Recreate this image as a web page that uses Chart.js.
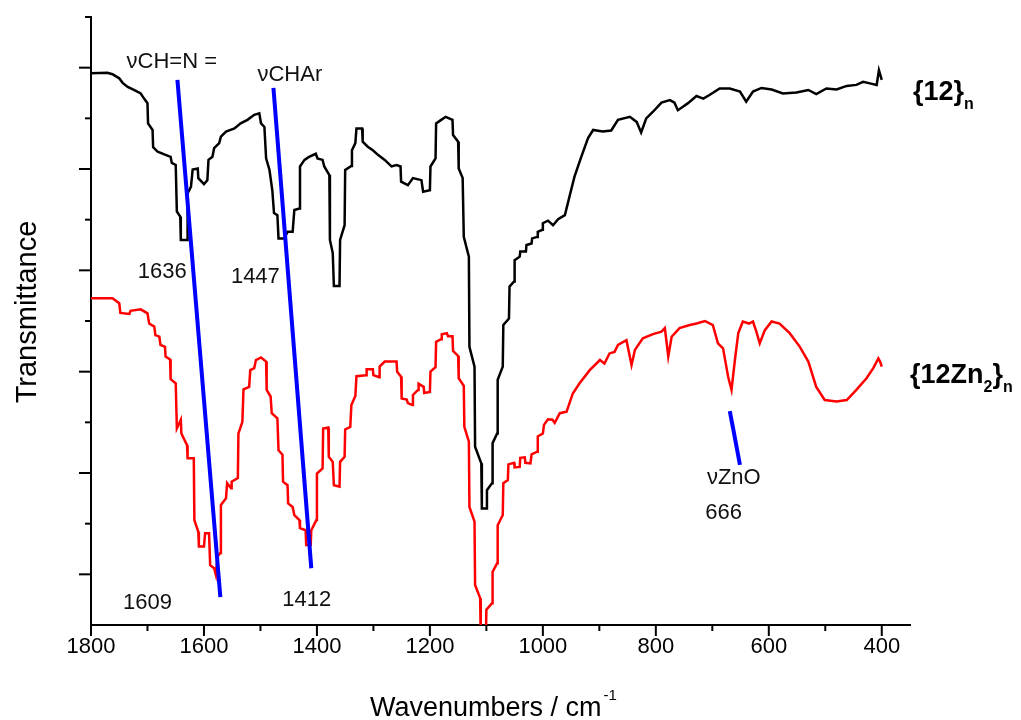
<!DOCTYPE html>
<html>
<head>
<meta charset="utf-8">
<script src="https://cdn.jsdelivr.net/npm/chart.js@4"></script>
<style>
  html, body { margin: 0; padding: 0; background: #fff; }
  #wrap { width: 1021px; height: 720px; }
</style>
</head>
<body>
<div id="wrap"><canvas id="ir" width="1021" height="720"></canvas></div>
<script>
// {12}n spectrum (black)
const polyWn = [
  1800, 1771, 1762, 1750, 1744, 1735, 1724, 1712, 1706, 1700,
  1699, 1691, 1690, 1682, 1668, 1659, 1657, 1650, 1648, 1642,
  1641, 1630, 1629, 1623, 1620, 1611, 1610, 1600, 1594, 1592,
  1585, 1582, 1573, 1570, 1561, 1546, 1535, 1523, 1511, 1502,
  1499, 1493, 1490, 1484, 1479, 1476, 1470, 1468, 1458, 1452,
  1443, 1440, 1431, 1430, 1422, 1414, 1402, 1399, 1390, 1387,
  1378, 1377, 1372, 1370, 1360, 1359, 1351, 1350, 1339, 1338,
  1332, 1330, 1320, 1319, 1310, 1301, 1292, 1280, 1268, 1259,
  1252, 1251, 1239, 1230, 1215, 1212, 1200, 1199, 1190, 1189,
  1180, 1172, 1160, 1159, 1150, 1149, 1142, 1140, 1131, 1130,
  1121, 1120, 1109, 1108, 1100, 1099, 1090, 1089, 1081, 1080,
  1071, 1070, 1060, 1059, 1051, 1050, 1041, 1040, 1030, 1029,
  1020, 1019, 1010, 1009, 1001, 1000, 991, 982, 973, 961,
  953, 944, 932, 920, 911, 894, 879, 867, 846, 834,
  826, 817, 805, 790, 775, 767, 761, 752, 743, 728,
  716, 705, 687, 669, 651, 640, 628, 613, 595, 575,
  551, 530, 516, 498, 480, 462, 445, 433, 421, 409,
  405, 400
];
const polyT = [
  108.9, 109.0, 108.7, 107.9, 107.0, 106.2, 105.6, 104.9, 103.9, 103.0,
  99.0, 97.7, 94.3, 93.4, 92.8, 92.4, 91.2, 90.8, 81.6, 80.6,
  76.0, 76.0, 85.2, 86.5, 89.9, 90.1, 88.2, 87.0, 87.8, 91.8,
  92.4, 94.1, 95.1, 96.4, 97.4, 98.0, 99.0, 99.7, 100.7, 101.0,
  99.0, 98.3, 92.1, 89.8, 85.8, 81.3, 80.9, 76.3, 76.3, 77.6,
  77.6, 81.9, 82.2, 90.5, 91.8, 92.4, 93.0, 92.1, 91.8, 90.5,
  88.8, 76.0, 73.4, 66.9, 66.9, 76.0, 78.9, 89.8, 90.6, 93.7,
  95.1, 98.0, 98.0, 95.4, 94.4, 93.7, 92.8, 91.8, 90.5, 90.8,
  90.5, 87.5, 86.8, 88.2, 87.8, 85.5, 85.8, 90.5, 92.1, 99.0,
  99.7, 100.3, 99.7, 96.7, 95.4, 90.1, 88.2, 76.6, 72.7, 54.9,
  51.0, 35.2, 31.9, 23.0, 23.0, 26.6, 28.0, 35.9, 37.8, 48.4,
  51.0, 59.2, 60.5, 66.8, 67.8, 72.0, 72.7, 73.7, 73.7, 75.0,
  75.3, 76.3, 76.6, 77.6, 78.0, 79.3, 79.8, 78.9, 80.1, 80.9,
  84.5, 88.5, 92.4, 96.1, 97.7, 97.4, 97.6, 99.7, 100.3, 99.3,
  97.2, 100.0, 101.3, 103.1, 103.6, 103.1, 101.6, 102.3, 103.0, 104.4,
  103.9, 104.6, 105.9, 105.9, 105.3, 103.3, 105.3, 106.0, 105.7, 104.9,
  105.1, 105.6, 104.8, 105.9, 105.7, 106.4, 106.6, 107.2, 106.9, 106.6,
  109.5, 107.6
];

// {12Zn2}n spectrum (red)
const znWn = [
  1800, 1762, 1750, 1748, 1732, 1730, 1712, 1700, 1697, 1688,
  1686, 1679, 1677, 1669, 1668, 1660, 1659, 1650, 1648, 1641,
  1640, 1630, 1629, 1618, 1617, 1610, 1609, 1600, 1598, 1591,
  1589, 1582, 1579, 1576, 1571, 1570, 1561, 1559, 1552, 1551,
  1540, 1539, 1532, 1530, 1520, 1518, 1511, 1508, 1499, 1490,
  1489, 1482, 1480, 1470, 1468, 1461, 1460, 1452, 1451, 1443,
  1440, 1431, 1430, 1420, 1419, 1411, 1410, 1401, 1400, 1390,
  1389, 1380, 1379, 1372, 1370, 1360, 1359, 1351, 1350, 1341,
  1339, 1332, 1330, 1313, 1312, 1301, 1300, 1290, 1289, 1280,
  1259, 1258, 1251, 1250, 1241, 1239, 1231, 1230, 1221, 1220,
  1211, 1210, 1200, 1199, 1190, 1189, 1180, 1179, 1170, 1168,
  1160, 1159, 1150, 1149, 1140, 1139, 1131, 1130, 1121, 1120,
  1111, 1110, 1101, 1100, 1090, 1089, 1081, 1080, 1071, 1070,
  1062, 1061, 1051, 1050, 1041, 1040, 1032, 1031, 1022, 1020,
  1010, 1009, 1000, 998, 991, 983, 979, 970, 958, 947,
  935, 917, 899, 891, 882, 873, 867, 852, 843, 837,
  823, 805, 790, 784, 778, 772, 758, 740, 728, 713,
  699, 690, 681, 672, 666, 660, 654, 646, 635, 628,
  622, 616, 607, 595, 581, 563, 545, 530, 516, 501,
  480, 462, 445, 427, 415, 406, 403, 400
];
const znT = [
  64.5, 64.5, 63.5, 61.6, 61.4, 62.0, 62.3, 61.5, 59.5, 58.9,
  57.2, 56.9, 55.3, 54.9, 53.0, 52.4, 48.5, 47.7, 38.8, 40.5,
  37.8, 35.5, 32.9, 32.9, 20.7, 18.4, 15.5, 15.5, 18.1, 18.1,
  11.8, 11.2, 9.9, 13.5, 14.2, 23.7, 25.0, 28.0, 27.0, 28.3,
  29.0, 37.8, 40.1, 46.5, 47.0, 50.3, 50.7, 52.3, 52.8, 52.0,
  46.4, 45.1, 41.8, 40.8, 34.5, 33.6, 28.3, 27.6, 24.0, 23.3,
  21.7, 20.7, 19.1, 18.7, 15.8, 15.8, 18.7, 20.7, 29.9, 30.9,
  38.8, 39.0, 33.2, 32.2, 27.6, 27.3, 32.2, 33.2, 38.6, 39.1,
  43.4, 45.2, 49.1, 49.3, 50.5, 50.5, 49.3, 48.9, 51.0, 52.0,
  52.0, 50.0, 49.0, 44.7, 44.5, 43.8, 43.4, 45.4, 46.4, 47.6,
  47.0, 45.8, 46.0, 50.0, 50.9, 55.9, 56.4, 57.4, 57.6, 57.0,
  57.0, 54.1, 53.1, 48.7, 47.2, 39.1, 36.2, 23.3, 20.4, 7.9,
  5.3, -3, -3, 3.0, 4.3, 10.5, 12.2, 19.7, 21.7, 28.0,
  28.6, 31.7, 32.0, 31.1, 31.2, 33.0, 33.1, 32.0, 31.9, 33.7,
  34.2, 37.2, 37.8, 39.5, 40.6, 40.5, 39.9, 41.8, 42.1, 45.7,
  47.7, 50.3, 52.3, 51.6, 53.6, 53.9, 55.3, 56.2, 51.3, 54.3,
  56.6, 57.4, 57.9, 58.6, 53.0, 56.9, 58.6, 59.2, 59.5, 60.0,
  59.2, 55.6, 54.6, 49.0, 46.4, 52.3, 57.6, 59.9, 59.5, 59.9,
  57.9, 55.6, 58.2, 59.9, 59.5, 57.6, 54.9, 52.0, 47.0, 44.4,
  44.1, 44.4, 46.4, 48.7, 50.7, 52.6, 52.0, 51.0
];

// blue assignment markers: [start, end]
const markWn = [[1647, 1571], [1477, 1410], [669, 651]];
const markT = [[107.6, 5.5], [106.0, 11.2], [42.2, 31.6]];

// annotation texts
const noteText = ['\u03BDCH=N =', '\u03BDCHAr', '1636', '1447', '1609', '1412', '\u03BDZnO', '666'];
const noteWn = [1657, 1448, 1674, 1509, 1700, 1418, 662, 680];
const noteT = [111.1, 108.5, 69.7, 68.7, 4.3, 4.9, 29.0, 22.1];

// series names, written as [text, isSubscript] pieces
const seriesNames = [
  [['{12}', false], ['n', true]],
  [['{12Zn', false], ['2', true], ['}', false], ['n', true]]
];
const seriesNameT = [103.6, 47.8];

// axis ticks
const xMajor = [1800, 1600, 1400, 1200, 1000, 800, 600, 400];
const xMinor = [1700, 1500, 1300, 1100, 900, 700, 500];
const yMajor = [10, 30, 50, 70, 90, 110];
const yMinor = [20, 40, 60, 80, 100, 120];

const FONT = "'Liberation Sans', Arial, Helvetica, sans-serif";
Chart.defaults.font.family = FONT;
Chart.defaults.color = '#000';

const toPoints = (xs, ys) => xs.map((v, i) => ({ x: v, y: ys[i] }));

const datasets = [
  { data: toPoints(polyWn, polyT), borderColor: '#000000', borderWidth: 2.5, order: 2 },
  { data: toPoints(znWn, znT), borderColor: '#ff0000', borderWidth: 2.5, order: 2 }
];
markWn.forEach((w, i) => {
  datasets.push({ data: toPoints(w, markT[i]), borderColor: '#0000ff', borderWidth: 4, order: 1 });
});
datasets.forEach(d => { d.showLine = true; d.pointRadius = 0; d.tension = 0; d.borderCapStyle = 'butt'; });

const decor = {
  id: 'decor',
  afterDraw(chart) {
    const { ctx, scales: { x, y }, chartArea } = chart;
    ctx.save();
    ctx.strokeStyle = '#000';
    ctx.lineWidth = 2;
    const tick = (x1, y1, x2, y2) => { ctx.beginPath(); ctx.moveTo(x1, y1); ctx.lineTo(x2, y2); ctx.stroke(); };
    xMajor.forEach(v => { const p = x.getPixelForValue(v); tick(p, chartArea.bottom, p, chartArea.bottom + 11); });
    xMinor.forEach(v => { const p = x.getPixelForValue(v); tick(p, chartArea.bottom, p, chartArea.bottom + 6); });
    yMajor.forEach(v => { const p = y.getPixelForValue(v); tick(chartArea.left - 12, p, chartArea.left, p); });
    yMinor.forEach(v => { const p = y.getPixelForValue(v); tick(chartArea.left - 6, p, chartArea.left, p); });

    // annotations
    ctx.fillStyle = '#111';
    ctx.font = '22px ' + FONT;
    ctx.textAlign = 'center';
    ctx.textBaseline = 'middle';
    noteText.forEach((t, i) => ctx.fillText(t, x.getPixelForValue(noteWn[i]), y.getPixelForValue(noteT[i])));

    // series names
    ctx.fillStyle = '#000';
    ctx.textAlign = 'left';
    ctx.textBaseline = 'alphabetic';
    seriesNames.forEach((parts, i) => {
      let px = chartArea.right + (i === 0 ? 3 : 0);
      const py = y.getPixelForValue(seriesNameT[i]);
      parts.forEach(([txt, sub]) => {
        ctx.font = sub ? 'bold 16px ' + FONT : 'bold 27px ' + FONT;
        ctx.fillText(txt, px, sub ? py + 9 : py);
        px += ctx.measureText(txt).width;
      });
    });

    // axis titles
    ctx.font = '27px ' + FONT;
    const main = 'Wavenumbers / cm';
    const mw = ctx.measureText(main).width;
    ctx.font = '15px ' + FONT;
    const sw = ctx.measureText('-1').width;
    let tx = (chartArea.left + chartArea.right) / 2 - (mw + sw) / 2 - 8;
    ctx.font = '27px ' + FONT;
    ctx.fillText(main, tx, 716);
    ctx.font = '15px ' + FONT;
    ctx.fillText('-1', tx + mw + 2, 700);

    ctx.save();
    ctx.translate(28, 312);
    ctx.rotate(-Math.PI / 2);
    ctx.font = '29px ' + FONT;
    ctx.textAlign = 'center';
    ctx.textBaseline = 'middle';
    ctx.fillText('Transmittance', 0, 0);
    ctx.restore();
    ctx.restore();
  }
};

new Chart(document.getElementById('ir'), {
  type: 'scatter',
  data: { datasets },
  options: {
    responsive: false,
    animation: false,
    layout: { padding: { top: 17, right: 111, left: 0, bottom: 0 } },
    plugins: { legend: { display: false }, tooltip: { enabled: false } },
    scales: {
      x: {
        type: 'linear',
        reverse: true,
        min: 350,
        max: 1800,
        afterBuildTicks: s => { s.ticks = xMajor.map(v => ({ value: v })); },
        afterFit: s => { s.height = 95; },
        ticks: { autoSkip: false, maxRotation: 0, padding: 9, font: { size: 22 }, color: '#000', callback: v => String(v) },
        grid: { display: true, drawOnChartArea: false, drawTicks: false },
        border: { display: true, color: '#000', width: 2 }
      },
      y: {
        min: 0,
        max: 120,
        afterFit: s => { s.width = 91; },
        ticks: { display: false },
        grid: { display: true, drawOnChartArea: false, drawTicks: false },
        border: { display: true, color: '#000', width: 2 }
      }
    }
  },
  plugins: [decor]
});
</script>
</body>
</html>
